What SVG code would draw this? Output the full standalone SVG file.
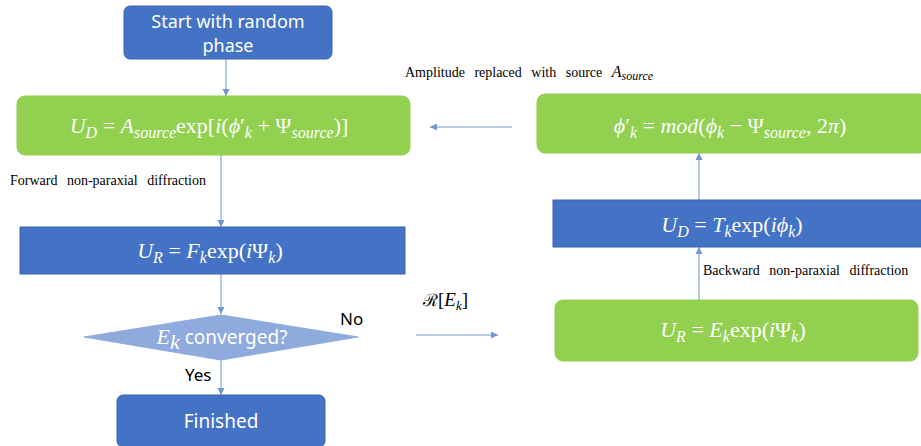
<svg xmlns="http://www.w3.org/2000/svg" width="921" height="446" viewBox="0 0 921 446">
<defs>
<style>
.blue{fill:#4472C4;stroke:#3A64B0;stroke-width:1}
.green{fill:#92D050;stroke:#92D050;stroke-width:1}
.dia{fill:#8FAADC;stroke:#8FAADC}
.conn{stroke:#4472C4;stroke-width:1;fill:none;opacity:0.75}
.sans{font-family:"Noto Sans","Open Sans","Liberation Sans",sans-serif;fill:#fff}
.math{font-family:"Liberation Serif","DejaVu Serif",serif;font-style:italic;fill:#fff;font-size:22px}
.sub{font-size:16px}
.rm{font-style:normal}
.lbl{font-family:"Liberation Serif","Times New Roman",serif;fill:#000;font-size:14px;word-spacing:6px}
.lab{font-family:"Noto Sans","Open Sans","Liberation Sans",sans-serif;fill:#000;font-size:17px}
</style>
<marker id="ah" markerWidth="8" markerHeight="8" refX="7" refY="4" orient="auto" markerUnits="userSpaceOnUse">
<path d="M0,0.5 L7,4 L0,7.5 Z" fill="#4472C4"/>
</marker>
</defs>
<g id="connectors">
<line class="conn" x1="226" y1="59" x2="226" y2="96" marker-end="url(#ah)"/>
<line class="conn" x1="221" y1="155" x2="221" y2="227" marker-end="url(#ah)"/>
<line class="conn" x1="221" y1="274" x2="221" y2="314" marker-end="url(#ah)"/>
<line class="conn" x1="221" y1="360" x2="221" y2="395" marker-end="url(#ah)"/>
<line class="conn" x1="416" y1="335" x2="498" y2="335" marker-end="url(#ah)"/>
<line class="conn" x1="699" y1="300" x2="699" y2="247" marker-end="url(#ah)"/>
<line class="conn" x1="699" y1="200" x2="699" y2="153" marker-end="url(#ah)"/>
<line class="conn" x1="512" y1="127" x2="430" y2="127" marker-end="url(#ah)"/>
</g>
<g id="start">
<rect class="blue" x="124" y="6" width="208" height="53" rx="6"/>
<text class="sans" x="228" y="28" font-size="18" text-anchor="middle">Start with random</text>
<text class="sans" x="228" y="52" font-size="18" text-anchor="middle">phase</text>
</g>
<g id="ud-source">
<rect class="green" x="17" y="96" width="393" height="59" rx="8"/>
<text class="math" x="209" y="133" text-anchor="middle" font-size="23">U<tspan class="sub" dy="5">D</tspan><tspan class="rm" dy="-5"> = </tspan>A<tspan class="sub" dy="5">source</tspan><tspan class="rm" dy="-5">exp[</tspan>i<tspan class="rm">(</tspan>ϕ<tspan class="rm">′</tspan><tspan class="sub" dy="5">k</tspan><tspan class="rm" dy="-5"> + Ψ</tspan><tspan class="sub" dy="5">source</tspan><tspan class="rm" dy="-5">)]</tspan></text>
</g>
<g id="ur-forward">
<rect class="blue" x="20" y="227" width="385" height="47"/>
<text class="math" x="210" y="258" text-anchor="middle">U<tspan class="sub" dy="5">R</tspan><tspan class="rm" dy="-5"> = </tspan>F<tspan class="sub" dy="5">k</tspan><tspan class="rm" dy="-5">exp(</tspan>i<tspan class="rm">Ψ</tspan><tspan class="sub" dy="5">k</tspan><tspan class="rm" dy="-5">)</tspan></text>
</g>
<g id="converged">
<polygon class="dia" points="221,315 358,337 221,360 84,337"/>
<text class="sans" x="222" y="344" font-size="19" text-anchor="middle"><tspan class="math" font-size="20">E</tspan><tspan class="math" font-size="14" dy="5">k</tspan><tspan dy="-5">  converged?</tspan></text>
</g>
<g id="finished">
<rect class="blue" x="117" y="395" width="208" height="52" rx="6"/>
<text class="sans" x="221" y="428" font-size="19" text-anchor="middle">Finished</text>
</g>
<g id="phi-prime">
<rect class="green" x="537" y="94" width="390" height="59" rx="8"/>
<text class="math" x="730" y="133" text-anchor="middle" font-size="23">ϕ<tspan class="rm">′</tspan><tspan class="sub" dy="5">k</tspan><tspan class="rm" dy="-5"> = </tspan>mod<tspan class="rm">(</tspan>ϕ<tspan class="sub" dy="5">k</tspan><tspan class="rm" dy="-5"> − Ψ</tspan><tspan class="sub" dy="5">source</tspan><tspan class="rm" dy="-5">, 2</tspan>π<tspan class="rm">)</tspan></text>
</g>
<g id="ud-target">
<rect class="blue" x="553" y="200" width="375" height="47"/>
<text class="math" x="732" y="232" text-anchor="middle">U<tspan class="sub" dy="5">D</tspan><tspan class="rm" dy="-5"> = </tspan>T<tspan class="sub" dy="5">k</tspan><tspan class="rm" dy="-5">exp(</tspan>iϕ<tspan class="sub" dy="5">k</tspan><tspan class="rm" dy="-5">)</tspan></text>
</g>
<g id="ur-target">
<rect class="green" x="555" y="300" width="363" height="61" rx="8"/>
<text class="math" x="733" y="337" text-anchor="middle">U<tspan class="sub" dy="5">R</tspan><tspan class="rm" dy="-5"> = </tspan>E<tspan class="sub" dy="5">k</tspan><tspan class="rm" dy="-5">exp(</tspan>i<tspan class="rm">Ψ</tspan><tspan class="sub" dy="5">k</tspan><tspan class="rm" dy="-5">)</tspan></text>
</g>
<g id="labels">
<text class="lbl" x="10" y="185">Forward non-paraxial diffraction</text>
<text class="lbl" x="703" y="275">Backward non-paraxial diffraction</text>
<text class="lbl" x="405" y="77">Amplitude replaced with source <tspan font-style="italic" font-size="16">A</tspan><tspan font-style="italic" font-size="12" dy="3">source</tspan></text>
<text class="lab" x="340" y="325">No</text>
<text class="lab" x="185" y="381">Yes</text>
<text x="423" y="306" font-family="'Liberation Serif',serif" font-size="19" fill="#000"><tspan font-family="'DejaVu Serif',serif" font-size="17">ℛ</tspan>[<tspan font-style="italic">E</tspan><tspan font-style="italic" font-size="13" dy="4">k</tspan><tspan dy="-4">]</tspan></text>
</g>
</svg>
